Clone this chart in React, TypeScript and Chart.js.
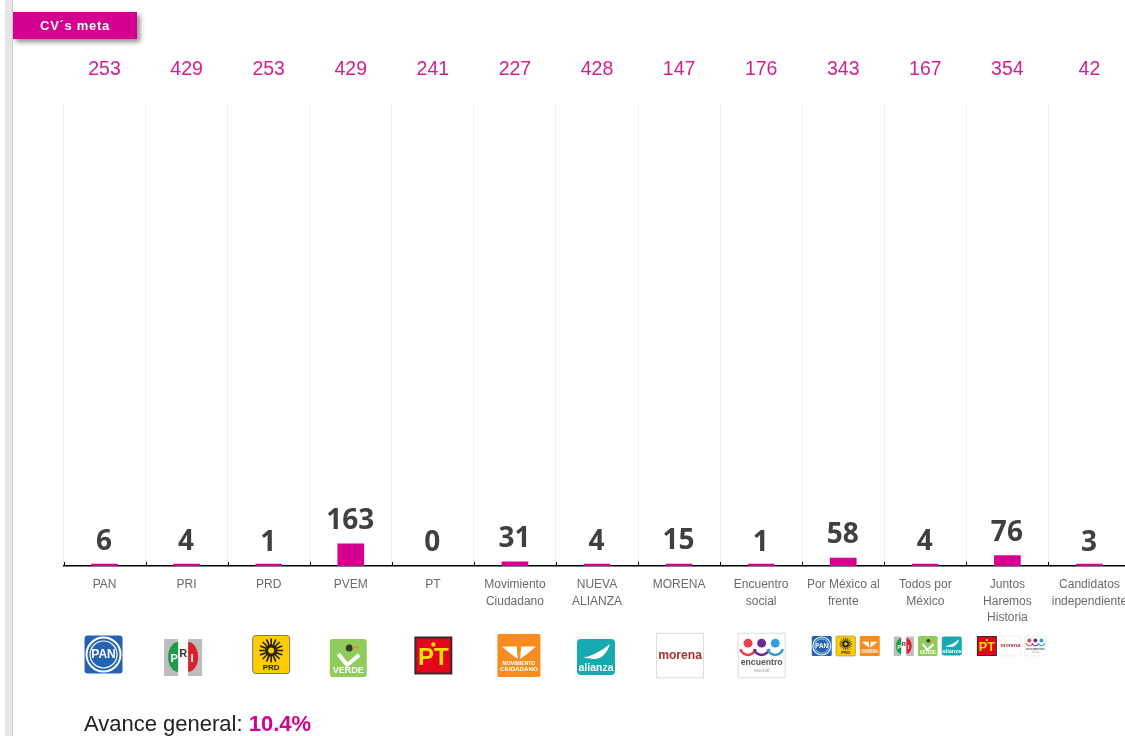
import React, { useEffect, useRef } from "react";
import { Chart, registerables } from "chart.js";

Chart.register(...registerables);

const categories: (string | string[])[] = [
  "PAN", "PRI", "PRD", "PVEM", "PT",
  ["Movimiento", "Ciudadano"], ["NUEVA", "ALIANZA"], "MORENA", ["Encuentro", "social"],
  ["Por México al", "frente"], ["Todos por", "México"], ["Juntos", "Haremos", "Historia"],
  ["Candidatos", "independiente"],
];
const cvValues = [6, 4, 1, 163, 0, 31, 4, 15, 1, 58, 4, 76, 3];
const metaLabels = ["253", "429", "253", "429", "241", "227", "428", "147", "176", "343", "167", "354", "42"];

const MAGENTA = "#d4008f";
const META = "#d81e8c";

type Ctx = CanvasRenderingContext2D;

function rr(c: Ctx, x: number, y: number, w: number, h: number, r: number) {
  c.beginPath();
  c.roundRect(x, y, w, h, r);
}
function label(c: Ctx, t: string, x: number, y: number, font: string, color: string) {
  c.font = font;
  c.fillStyle = color;
  c.textAlign = "center";
  c.textBaseline = "middle";
  c.fillText(t, x, y);
}
const N = "'Liberation Sans Narrow','Liberation Sans'";

const logoPainters: Record<string, (c: Ctx) => void> = {
  pan(c) {
    rr(c, -19, -19, 38, 38, 3); c.fillStyle = "#2463b4"; c.fill();
    c.strokeStyle = "#fff"; c.lineWidth = 2;
    c.beginPath(); c.arc(0, 0, 17, 0, 7); c.stroke();
    c.lineWidth = 1.2;
    c.beginPath(); c.arc(0, 0, 13.5, 0, 7); c.stroke();
    label(c, "PAN", 0, 0.5, `bold 12px ${N}`, "#fff");
  },
  pri(c) {
    c.fillStyle = "#bdbdbd";
    c.fillRect(-19, -18, 14, 37); c.fillRect(5, -18, 14, 37);
    c.fillStyle = "#1d9a4b";
    c.beginPath(); c.ellipse(-5, 0, 10, 15, 0, Math.PI / 2, Math.PI * 1.5); c.fill();
    c.fillStyle = "#d7232e";
    c.beginPath(); c.ellipse(5, 0, 10, 15, 0, -Math.PI / 2, Math.PI / 2); c.fill();
    label(c, "P", -9, 2, "bold 11px 'Liberation Sans'", "#fff");
    label(c, "R", 0, -3, "bold 11px 'Liberation Sans'", "#333");
    label(c, "I", 9, 2, "bold 11px 'Liberation Sans'", "#fff");
  },
  prd(c) {
    rr(c, -18.5, -19, 37, 38, 3); c.fillStyle = "#ffcc00"; c.fill();
    c.strokeStyle = "#777"; c.lineWidth = 1; c.stroke();
    c.strokeStyle = "#222"; c.lineWidth = 1.6;
    for (let i = 0; i < 16; i++) {
      const a = (i / 16) * Math.PI * 2;
      c.beginPath();
      c.moveTo(Math.cos(a) * 5, -4 + Math.sin(a) * 5);
      c.lineTo(Math.cos(a) * 12, -4 + Math.sin(a) * 12);
      c.stroke();
    }
    c.fillStyle = "#222"; c.beginPath(); c.arc(0, -4, 6, 0, 7); c.fill();
    c.fillStyle = "#ffcc00"; c.beginPath(); c.arc(0, -4, 3, 0, 7); c.fill();
    label(c, "PRD", 0, 13, "bold 8px 'Liberation Sans'", "#222");
  },
  verde(c) {
    rr(c, -18.5, -19, 37, 38, 3); c.fillStyle = "#90cc5c"; c.fill();
    c.strokeStyle = "#fff"; c.lineWidth = 4;
    c.beginPath(); c.moveTo(-10, -4); c.lineTo(-1, 7); c.lineTo(11, -3); c.stroke();
    c.fillStyle = "#2c3a2c"; c.beginPath(); c.arc(1, -10, 3.5, 0, 7); c.fill();
    c.fillStyle = "#f28c1e"; c.fillRect(4, -12, 6, 2.5);
    label(c, "VERDE", 0, 13, "bold 9px 'Liberation Sans'", "#fff");
  },
  pt(c) {
    c.fillStyle = "#3a2a2a"; c.fillRect(-19, -19, 38, 38);
    c.fillStyle = "#e3051b"; c.fillRect(-17, -17, 34, 34);
    c.fillStyle = "#ffe100"; c.beginPath(); c.arc(0, -11, 2.2, 0, 7); c.fill();
    label(c, "PT", 0, 3, "bold 24px 'Liberation Sans'", "#ffe100");
  },
  mc(c) {
    rr(c, -19, -19, 38, 38, 1.5); c.fillStyle = "#f78d1e"; c.fill();
    c.fillStyle = "#fff";
    c.beginPath(); c.moveTo(-15, -8); c.lineTo(-2, -8); c.lineTo(-1, 3); c.lineTo(-8, -2); c.closePath(); c.fill();
    c.beginPath(); c.moveTo(15, -8); c.lineTo(2, -8); c.lineTo(1, 3); c.lineTo(8, -2); c.closePath(); c.fill();
    label(c, "MOVIMIENTO", 0, 7, "bold 4.5px 'Liberation Sans'", "#fff");
    label(c, "CIUDADANO", 0, 12, "bold 5.5px 'Liberation Sans'", "#fff");
  },
  alianza(c) {
    rr(c, -19, -18, 38, 36, 4); c.fillStyle = "#17a9b0"; c.fill();
    c.fillStyle = "#fff";
    c.beginPath(); c.moveTo(-13, 1); c.quadraticCurveTo(2, -3, 14, -13); c.quadraticCurveTo(9, 2, -2, 2); c.quadraticCurveTo(-8, 1, -13, 1); c.fill();
    label(c, "alianza", 0, 11, "bold 10.5px 'Liberation Sans'", "#fff");
  },
  morena(c) {
    c.fillStyle = "#fff"; c.fillRect(-19, -18, 38, 36);
    c.strokeStyle = "#dcdcdc"; c.lineWidth = 0.8; c.strokeRect(-19, -18, 38, 36);
    label(c, "morena", 0, 0, "bold 9.8px 'Liberation Sans'", "#a8312f");
  },
  encuentro(c) {
    c.fillStyle = "#fff"; c.fillRect(-19, -18, 38, 36);
    c.strokeStyle = "#dcdcdc"; c.lineWidth = 0.8; c.strokeRect(-19, -18, 38, 36);
    const dots: [number, string][] = [[-11, "#e8414f"], [0, "#6a2c91"], [11, "#2f9fdc"]];
    dots.forEach(([x, col]) => {
      c.fillStyle = col;
      c.beginPath(); c.arc(x, -10, 3.6, 0, 7); c.fill();
      c.strokeStyle = col; c.lineWidth = 2;
      c.beginPath(); c.arc(x, -7, 6.5, 0.3, Math.PI - 0.3); c.stroke();
    });
    label(c, "encuentro", 0, 6, "bold 7px 'Liberation Sans'", "#555");
    label(c, "social", 0, 12, "5px 'Liberation Sans'", "#aaa");
  },
};

// column, horizontal nudge from the column centre, centre height, drawn size, painter
const logos: [number, number, number, number, string][] = [
  [0, -1, 654.5, 38, "pan"],
  [1, -3.5, 657, 38, "pri"],
  [2, 2.5, 654.5, 38, "prd"],
  [3, -2.5, 658, 38, "verde"],
  [4, 0.5, 655.5, 38, "pt"],
  [5, 4, 655.5, 43, "mc"],
  [6, -1, 657, 38, "alianza"],
  [7, 1, 655.5, 47, "morena"],
  [8, 0.5, 655.5, 47, "encuentro"],
  [9, -21.5, 646, 20, "pan"],
  [9, 2.5, 646, 20, "prd"],
  [9, 26.5, 646, 20, "mc"],
  [10, -21.5, 646, 20, "pri"],
  [10, 2.5, 646, 20, "verde"],
  [10, 26.5, 646, 20, "alianza"],
  [11, -20.5, 646, 20, "pt"],
  [11, 3, 646, 21, "morena"],
  [11, 28, 646, 21, "encuentro"],
];

const decorations = {
  id: "decorations",
  afterDatasetsDraw(chart: any) {
    const c: Ctx = chart.ctx;
    const xs = chart.scales.x;
    const ys = chart.scales.y;
    const step = xs.width / categories.length;
    c.save();
    // short ticks rising from the axis line
    c.strokeStyle = "#000";
    c.lineWidth = 1;
    categories.forEach((_, i) => {
      const x = Math.round(xs.left + i * step) + 0.5;
      c.beginPath();
      c.moveTo(x, ys.bottom);
      c.lineTo(x, ys.bottom - 4);
      c.stroke();
    });
    // value labels above the bars
    c.font = "bold 28px 'Open Sans'";
    c.fillStyle = "#404040";
    c.textAlign = "center";
    c.textBaseline = "alphabetic";
    cvValues.forEach((v, i) => {
      c.fillText(String(v), xs.getPixelForValue(i) - 0.5, ys.getPixelForValue(v) - 15);
    });
    // party logos
    logos.forEach(([col, dx, cy, size, name]) => {
      c.save();
      c.translate(xs.getPixelForValue(col) + dx, cy);
      c.scale(size / 38, size / 38);
      logoPainters[name](c);
      c.restore();
    });
    c.restore();
  },
};

export default function App() {
  const ref = useRef<HTMLCanvasElement>(null);
  useEffect(() => {
    const chart = new Chart(ref.current as HTMLCanvasElement, {
      type: "bar",
      data: {
        labels: categories as any,
        datasets: [{
          data: cvValues,
          xAxisID: "x",
          yAxisID: "y",
          barThickness: 26,
          minBarLength: 2,
          backgroundColor: (ctx: any) => (ctx.raw === 0 ? "rgba(0,0,0,0)" : MAGENTA),
        }],
      },
      plugins: [decorations],
      options: {
        animation: false,
        responsive: false,
        layout: { padding: { left: 63.5, right: 19.5, top: 0, bottom: 0 } },
        plugins: { legend: { display: false }, tooltip: { enabled: false }, title: { display: false } },
        scales: {
          x: {
            position: "bottom",
            afterFit: (s: any) => { s.height = 170; },
            grid: { color: "#f1f1f1", drawTicks: false, offset: true },
            border: { color: "#000", width: 1.5 },
            ticks: {
              autoSkip: false, maxRotation: 0, minRotation: 0, padding: 11, color: "#6a6a6a",
              font: { family: "'Liberation Sans'", size: 12, lineHeight: 1.36 },
            },
          },
          xTop: {
            type: "category",
            labels: metaLabels,
            position: "top",
            offset: true,
            afterFit: (s: any) => { s.height = 104; },
            grid: { display: false, drawTicks: false },
            border: { display: false },
            ticks: {
              autoSkip: false, maxRotation: 0, minRotation: 0, padding: 23, color: META,
              font: { family: "'Liberation Sans'", size: 19.5 },
            },
          },
          y: { display: false, min: 0, max: 3400 },
        },
      } as any,
    });
    return () => chart.destroy();
  }, []);

  return (
    <div style={{ position: "absolute", left: 0, top: 0, width: 1125, height: 736, overflow: "hidden", background: "#fff", fontFamily: "'Liberation Sans'" }}>
      <canvas ref={ref} width={1150} height={736} style={{ position: "absolute", left: 0, top: 0, display: "block" }} />
      <div style={{ position: "absolute", left: 5, top: 0, width: 7, height: 736, background: "#e6e6e6", borderRight: "1px solid #cfcfcf" }} />
      <div style={{ position: "absolute", left: 13, top: 12, width: 124, height: 27, background: MAGENTA, color: "#fff", font: "bold 13px/27px 'Liberation Sans'", letterSpacing: "0.7px", textAlign: "center", boxShadow: "3px 3px 5px rgba(0,0,0,0.45)", boxSizing: "border-box" }}>
        CV´s meta
      </div>
      <div style={{ position: "absolute", left: 84, top: 712, fontSize: 22, lineHeight: "24px", color: "#222", whiteSpace: "nowrap" }}>
        Avance general: <span style={{ color: MAGENTA, fontWeight: "bold" }}>10.4%</span>
      </div>
    </div>
  );
}
